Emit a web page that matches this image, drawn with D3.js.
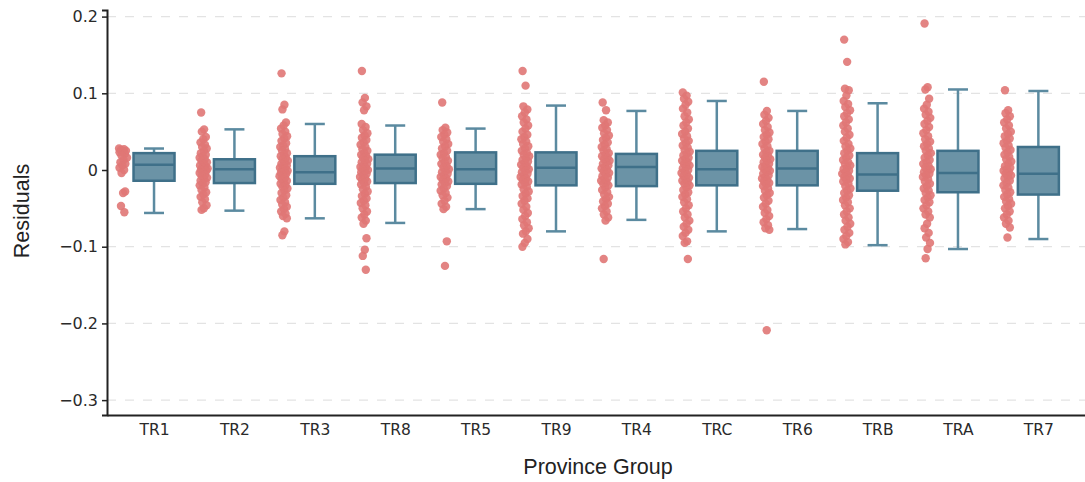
<!DOCTYPE html>
<html>
<head>
<meta charset="utf-8">
<script src="https://cdn.jsdelivr.net/npm/d3@7"></script>
<style>
  body { margin: 0; background: #fff; }
  svg { display: block; }
</style>
</head>
<body>
<svg></svg>
<script>
const WIDTH = 1085;
const HEIGHT = 482;

// groups, in plotted order
const groups = ['TR1', 'TR2', 'TR3', 'TR8', 'TR5', 'TR9', 'TR4', 'TRC', 'TR6', 'TRB', 'TRA', 'TR7'];

// box statistics
const lowerFence = [-0.056, -0.053, -0.063, -0.069, -0.051, -0.080, -0.065, -0.080, -0.077, -0.098, -0.103, -0.090];
const q1 = [-0.014, -0.017, -0.018, -0.017, -0.018, -0.020, -0.021, -0.020, -0.020, -0.027, -0.029, -0.032];
const median = [0.007, 0.001, -0.003, 0.002, 0.001, 0.003, 0.004, 0.001, 0.002, -0.006, -0.004, -0.005];
const q3 = [0.022, 0.014, 0.018, 0.020, 0.023, 0.023, 0.021, 0.025, 0.025, 0.022, 0.025, 0.030];
const upperFence = [0.028, 0.053, 0.060, 0.058, 0.054, 0.084, 0.077, 0.090, 0.077, 0.087, 0.105, 0.103];

// residual points per group (estimated)
const ptsTR1 = [0.028,0.027,0.026,0.025,0.025,0.023,0.021,0.019,0.016,0.013,0.010,0.008,0.006,0.003,0.000,-0.004,-0.028,-0.030,-0.047,-0.055];
const ptsTR2 = [0.075,0.053,0.050,0.043,0.040,0.036,0.033,0.030,0.028,0.025,0.022,0.020,0.018,0.016,0.014,0.012,0.010,0.008,0.006,0.005,0.003,0.002,0.001,0.000,-0.001,-0.003,-0.004,-0.006,-0.008,-0.010,-0.012,-0.014,-0.016,-0.018,-0.020,-0.023,-0.026,-0.029,-0.032,-0.035,-0.038,-0.042,-0.046,-0.050,-0.052];
const ptsTR3 = [0.126,0.085,0.079,0.062,0.058,0.054,0.050,0.047,0.044,0.041,0.038,0.035,0.032,0.030,0.027,0.025,0.022,0.020,0.018,0.016,0.014,0.012,0.010,0.008,0.006,0.005,0.003,0.002,0.000,-0.001,-0.002,-0.004,-0.005,-0.007,-0.008,-0.010,-0.012,-0.014,-0.016,-0.018,-0.020,-0.022,-0.024,-0.027,-0.030,-0.033,-0.036,-0.039,-0.042,-0.045,-0.048,-0.051,-0.054,-0.057,-0.060,-0.063,-0.080,-0.085];
const ptsTR8 = [0.129,0.094,0.088,0.083,0.078,0.060,0.056,0.052,0.048,0.045,0.042,0.039,0.036,0.033,0.030,0.027,0.025,0.022,0.020,0.018,0.016,0.014,0.012,0.010,0.008,0.006,0.004,0.003,0.001,0.000,-0.002,-0.003,-0.005,-0.007,-0.009,-0.011,-0.013,-0.015,-0.017,-0.019,-0.022,-0.025,-0.028,-0.031,-0.034,-0.037,-0.040,-0.043,-0.046,-0.050,-0.054,-0.058,-0.062,-0.066,-0.070,-0.089,-0.104,-0.112,-0.130];
const ptsTR5 = [0.088,0.055,0.052,0.049,0.046,0.043,0.040,0.037,0.034,0.031,0.028,0.025,0.022,0.020,0.017,0.015,0.012,0.010,0.008,0.005,0.003,0.001,-0.001,-0.003,-0.005,-0.007,-0.009,-0.011,-0.013,-0.015,-0.017,-0.019,-0.021,-0.024,-0.027,-0.030,-0.033,-0.036,-0.040,-0.044,-0.048,-0.051,-0.093,-0.125];
const ptsTR9 = [0.129,0.110,0.083,0.079,0.075,0.070,0.066,0.062,0.058,0.054,0.050,0.046,0.043,0.040,0.037,0.034,0.031,0.028,0.025,0.022,0.020,0.018,0.015,0.013,0.011,0.009,0.007,0.005,0.003,0.001,-0.001,-0.003,-0.005,-0.007,-0.009,-0.011,-0.013,-0.015,-0.017,-0.019,-0.022,-0.025,-0.028,-0.031,-0.034,-0.037,-0.040,-0.044,-0.048,-0.052,-0.056,-0.060,-0.064,-0.068,-0.072,-0.076,-0.080,-0.083,-0.090,-0.095,-0.100];
const ptsTR4 = [0.088,0.078,0.065,0.062,0.058,0.055,0.052,0.048,0.045,0.042,0.039,0.036,0.033,0.030,0.027,0.025,0.022,0.020,0.018,0.016,0.014,0.012,0.010,0.008,0.006,0.004,0.002,0.000,-0.002,-0.004,-0.006,-0.008,-0.010,-0.012,-0.014,-0.016,-0.018,-0.020,-0.023,-0.026,-0.029,-0.032,-0.035,-0.038,-0.041,-0.044,-0.047,-0.050,-0.054,-0.058,-0.062,-0.066,-0.116];
const ptsTRC = [0.101,0.097,0.093,0.089,0.085,0.080,0.075,0.070,0.066,0.062,0.058,0.054,0.050,0.047,0.044,0.041,0.038,0.035,0.032,0.029,0.026,0.024,0.021,0.019,0.016,0.014,0.012,0.010,0.008,0.006,0.004,0.002,0.000,-0.002,-0.004,-0.006,-0.008,-0.010,-0.012,-0.014,-0.016,-0.018,-0.020,-0.023,-0.026,-0.029,-0.032,-0.035,-0.038,-0.042,-0.046,-0.050,-0.054,-0.058,-0.062,-0.066,-0.070,-0.074,-0.078,-0.082,-0.086,-0.093,-0.095,-0.116];
const ptsTR6 = [0.115,0.077,0.072,0.068,0.064,0.060,0.056,0.052,0.049,0.046,0.043,0.040,0.037,0.034,0.031,0.028,0.025,0.023,0.020,0.018,0.016,0.014,0.012,0.010,0.008,0.006,0.004,0.002,0.001,-0.001,-0.003,-0.005,-0.007,-0.009,-0.011,-0.013,-0.015,-0.017,-0.019,-0.021,-0.024,-0.027,-0.030,-0.033,-0.036,-0.040,-0.044,-0.048,-0.052,-0.056,-0.060,-0.064,-0.068,-0.072,-0.076,-0.078,-0.209];
const ptsTRB = [0.170,0.141,0.106,0.104,0.097,0.090,0.086,0.082,0.078,0.074,0.070,0.066,0.062,0.058,0.054,0.050,0.046,0.042,0.038,0.034,0.031,0.028,0.025,0.022,0.019,0.016,0.013,0.010,0.008,0.006,0.003,0.001,-0.001,-0.003,-0.005,-0.007,-0.009,-0.011,-0.013,-0.015,-0.018,-0.021,-0.024,-0.027,-0.030,-0.033,-0.036,-0.039,-0.042,-0.046,-0.050,-0.054,-0.058,-0.062,-0.066,-0.070,-0.074,-0.078,-0.082,-0.086,-0.090,-0.094,-0.097];
const ptsTRA = [0.191,0.108,0.105,0.093,0.085,0.080,0.076,0.072,0.068,0.064,0.060,0.056,0.052,0.048,0.044,0.040,0.037,0.034,0.031,0.028,0.025,0.022,0.019,0.016,0.013,0.010,0.008,0.005,0.003,0.001,-0.001,-0.003,-0.005,-0.007,-0.009,-0.012,-0.015,-0.018,-0.021,-0.024,-0.027,-0.030,-0.033,-0.036,-0.039,-0.042,-0.046,-0.050,-0.054,-0.058,-0.062,-0.070,-0.076,-0.082,-0.088,-0.095,-0.103,-0.115];
const ptsTR7 = [0.104,0.078,0.074,0.070,0.066,0.062,0.058,0.054,0.050,0.047,0.044,0.041,0.038,0.035,0.032,0.029,0.026,0.023,0.020,0.017,0.014,0.011,0.008,0.005,0.003,0.001,-0.001,-0.003,-0.005,-0.007,-0.009,-0.011,-0.014,-0.017,-0.020,-0.023,-0.026,-0.029,-0.032,-0.035,-0.038,-0.041,-0.044,-0.047,-0.050,-0.054,-0.058,-0.062,-0.066,-0.070,-0.075,-0.088];

const points = [ptsTR1, ptsTR2, ptsTR3, ptsTR8, ptsTR5, ptsTR9, ptsTR4, ptsTRC, ptsTR6, ptsTRB, ptsTRA, ptsTR7];

const yTicks = [0.2, 0.1, 0, -0.1, -0.2, -0.3];

const margin = {left: 107, right: 0, top: 10, bottom: 67};

const svg = d3.select('svg')
    .attr('width', WIDTH)
    .attr('height', HEIGHT);

// category index -> horizontal position (range padded on the left for the points)
const xScale = d3.scaleLinear()
    .domain([-0.585, 11.58])
    .range([margin.left, WIDTH - margin.right]);

const yScale = d3.scaleLinear()
    .domain([-0.3194, 0.2086])
    .range([HEIGHT - margin.bottom, margin.top]);

const fmt = v => v === 0 ? '0' : d3.format('.1f')(v).replace('-', '\u2212');

// dashed grid
svg.append('g')
    .selectAll('line')
    .data(yTicks.filter(d => d !== 0))
    .enter()
    .append('line')
    .attr('x1', margin.left)
    .attr('x2', WIDTH)
    .attr('y1', d => yScale(d))
    .attr('y2', d => yScale(d))
    .attr('stroke', '#e3e3e3')
    .attr('stroke-width', 1.2)
    .attr('stroke-dasharray', '9,9');

const BOX_HALF = 20.5;
const CAP_HALF = 10;
const PT_OFFSET = -31;

const boxColor = '#6b93a6';
const lineColor = '#3f7089';
const whiskerColor = '#5b8aa0';
const pointColor = '#e07775';

// points, jittered deterministically with a spread scaled by local density
points.forEach(function(vals, gi) {
    const dens = vals.map(v => vals.filter(w => Math.abs(w - v) < 0.012).length);
    const maxD = d3.max(dens);
    svg.append('g')
        .selectAll('circle')
        .data(vals)
        .enter()
        .append('circle')
        .attr('cx', function(d, i) {
            const spread = 3 + 6 * Math.sqrt(dens[i] / maxD);
            const frac = ((i * 0.6180339887) % 1) - 0.5;
            return xScale(gi) + PT_OFFSET + frac * spread;
        })
        .attr('cy', d => yScale(d))
        .attr('r', 4.2)
        .attr('fill', pointColor)
        .attr('fill-opacity', 0.9);
});

// boxes
const boxes = svg.append('g')
    .selectAll('g')
    .data(groups)
    .enter()
    .append('g');

// whiskers
boxes.append('line')
    .attr('x1', (d, i) => xScale(i))
    .attr('x2', (d, i) => xScale(i))
    .attr('y1', (d, i) => yScale(upperFence[i]))
    .attr('y2', (d, i) => yScale(lowerFence[i]))
    .attr('stroke', whiskerColor)
    .attr('stroke-width', 2.5);

[upperFence, lowerFence].forEach(function(fence) {
    boxes.append('line')
        .attr('x1', (d, i) => xScale(i) - CAP_HALF)
        .attr('x2', (d, i) => xScale(i) + CAP_HALF)
        .attr('y1', (d, i) => yScale(fence[i]))
        .attr('y2', (d, i) => yScale(fence[i]))
        .attr('stroke', whiskerColor)
        .attr('stroke-width', 2.5);
});

boxes.append('rect')
    .attr('x', (d, i) => xScale(i) - BOX_HALF)
    .attr('width', BOX_HALF * 2)
    .attr('y', (d, i) => yScale(q3[i]))
    .attr('height', (d, i) => yScale(q1[i]) - yScale(q3[i]))
    .attr('fill', boxColor)
    .attr('stroke', lineColor)
    .attr('stroke-width', 2.5);

boxes.append('line')
    .attr('x1', (d, i) => xScale(i) - BOX_HALF)
    .attr('x2', (d, i) => xScale(i) + BOX_HALF)
    .attr('y1', (d, i) => yScale(median[i]))
    .attr('y2', (d, i) => yScale(median[i]))
    .attr('stroke', lineColor)
    .attr('stroke-width', 2.5);

// left axis
const leftAxis = d3.axisLeft(yScale)
    .tickValues(yTicks)
    .tickFormat(fmt)
    .tickSize(5)
    .tickPadding(4);
const gy = svg.append('g').attr('id', 'left-axis')
    .attr('transform', 'translate(' + margin.left + ',0)')
    .call(leftAxis);
gy.select('.domain').attr('stroke', '#222').attr('stroke-width', 2);
gy.selectAll('.tick line').attr('stroke', '#222').attr('stroke-width', 1.5);
gy.selectAll('.tick text')
    .style('font-family', '"DejaVu Sans", Verdana, sans-serif')
    .style('font-size', '16px')
    .attr('fill', '#2a2a2a');

// bottom axis
const bottomAxis = d3.axisBottom(xScale)
    .tickValues(d3.range(groups.length))
    .tickFormat(i => groups[i])
    .tickSize(0)
    .tickPadding(9);
const gx = svg.append('g').attr('id', 'bottom-axis')
    .attr('transform', 'translate(0,' + (HEIGHT - margin.bottom) + ')')
    .call(bottomAxis);
gx.select('.domain').attr('stroke', '#222').attr('stroke-width', 2);
gx.selectAll('.tick text')
    .style('font-family', '"DejaVu Sans", Verdana, sans-serif')
    .style('font-size', '15.5px')
    .attr('fill', '#2a2a2a');

// axis titles
svg.append('text')
    .attr('x', 598)
    .attr('y', 474)
    .attr('text-anchor', 'middle')
    .style('font-family', '"Liberation Sans", Arial, sans-serif')
    .style('font-size', '21.5px')
    .attr('fill', '#222')
    .text('Province Group');

svg.append('text')
    .attr('transform', 'translate(29,211) rotate(-90)')
    .attr('text-anchor', 'middle')
    .style('font-family', '"Liberation Sans", Arial, sans-serif')
    .style('font-size', '21.5px')
    .attr('fill', '#222')
    .text('Residuals');
</script>
</body>
</html>
